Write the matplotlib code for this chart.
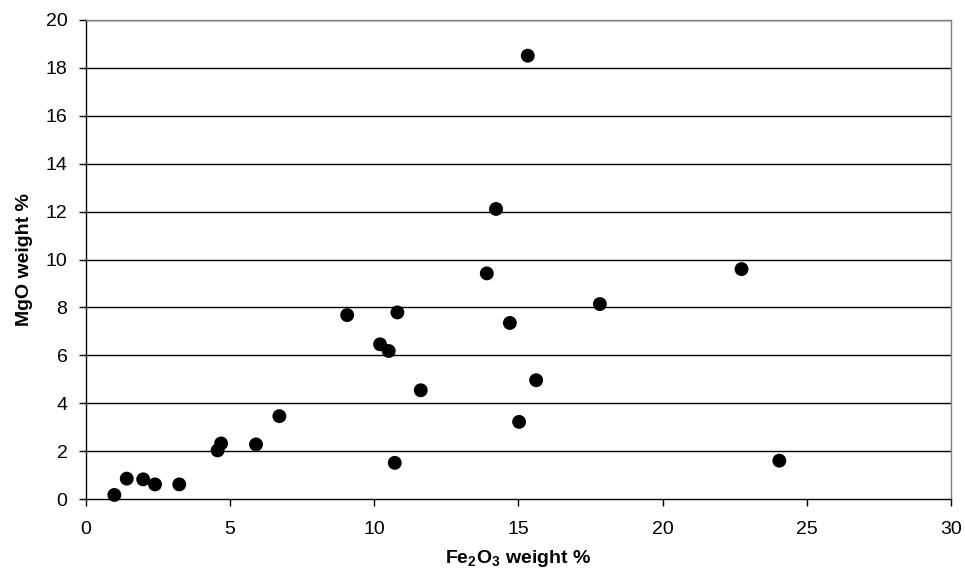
import matplotlib
matplotlib.use("Agg")
import matplotlib.pyplot as plt

plt.rcParams['font.family'] = ['Liberation Sans', 'DejaVu Sans']

# Fe2O3 and MgO contents (weight %)
fe2o3 = [1.0, 1.43, 2.0, 2.41, 3.25, 4.58, 4.70, 5.91, 6.72,
         9.07, 10.81, 10.21, 10.51, 11.62, 14.71, 17.83, 15.62, 15.03, 10.72,
         15.33, 14.23, 13.91, 22.74, 24.05]
mgo = [0.17, 0.85, 0.82, 0.61, 0.61, 2.03, 2.32, 2.28, 3.46,
       7.68, 7.79, 6.46, 6.18, 4.54, 7.35, 8.14, 4.96, 3.22, 1.51,
       18.51, 12.11, 9.42, 9.60, 1.60]

x_ticks = [0, 5, 10, 15, 20, 25, 30]
y_ticks = [0, 2, 4, 6, 8, 10, 12, 14, 16, 18, 20]

fig = plt.figure(figsize=(9.65, 5.81), dpi=100)
ax = fig.add_axes([85.5 / 965, 1 - 499 / 581, (951 - 85.5) / 965, (499 - 20) / 581])

ax.set_xlim(0, 30)
ax.set_ylim(0, 20)
ax.set_xticks(x_ticks)
ax.set_yticks(y_ticks)

for y in y_ticks[1:]:
    ax.axhline(y, color='black', linewidth=1.0, zorder=1)

ax.scatter(fe2o3, mgo, s=100, color='black', edgecolors='none', zorder=3, clip_on=False)

for side in ['left', 'bottom']:
    ax.spines[side].set_color('black')
    ax.spines[side].set_linewidth(1.0)
for side in ['top', 'right']:
    ax.spines[side].set_color('#808080')
    ax.spines[side].set_linewidth(1.0)

ax.tick_params(axis='both', direction='out', length=5, width=1.0, colors='black',
               labelsize=14)
ax.tick_params(axis='x', pad=11)
ax.tick_params(axis='y', pad=8)

ax.set_xlabel(r'Fe$_\mathregular{2}$O$_\mathregular{3}$ weight %', fontsize=14,
              fontweight='bold', labelpad=7)
ax.set_ylabel('MgO weight %', fontsize=14, fontweight='bold', labelpad=9)

fig.savefig('out.png', dpi=100, facecolor='white')
